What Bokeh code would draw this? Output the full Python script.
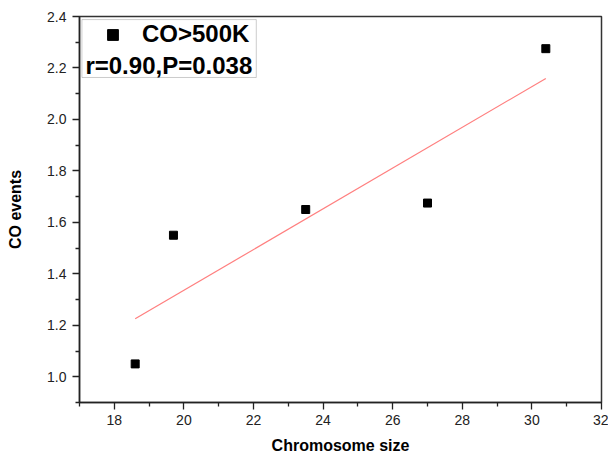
import numpy as np
from bokeh.plotting import figure
from bokeh.models import (Range1d, FixedTicker, NumeralTickFormatter, Legend,
                          LegendItem, Label, BoxAnnotation)
from bokeh.embed import file_html
from bokeh.resources import INLINE

# ---- data ----
chrom_size = [18.6, 19.7, 23.5, 27.0, 30.4]
co_events = [1.05, 1.55, 1.65, 1.675, 2.275]
series_label = "CO>500K"
stats_text = "r=0.90,P=0.038"
x_ticks = [18, 20, 22, 24, 26, 28, 30, 32]
x_minor = [17, 19, 21, 23, 25, 27, 29, 31]
y_ticks = [1.0, 1.2, 1.4, 1.6, 1.8, 2.0, 2.2, 2.4]
y_minor = [0.9, 1.1, 1.3, 1.5, 1.7, 1.9, 2.1, 2.3]

# linear fit drawn over the data span
slope, intercept = np.polyfit(chrom_size, co_events, 1)
fit_x = [min(chrom_size), max(chrom_size)]
fit_y = [slope * v + intercept for v in fit_x]

FONT = "Liberation Sans"

p = figure(width=608, height=461, output_backend="svg", toolbar_location=None,
           x_range=Range1d(17, 32), y_range=Range1d(0.9, 2.4),
           min_border_left=79, min_border_right=7, min_border_top=16,
           min_border_bottom=59)
p.background_fill_color = "white"
p.border_fill_color = "white"
p.outline_line_color = "#333333"
p.outline_line_width = 1.5
p.xgrid.visible = False
p.ygrid.visible = False

p.line(fit_x, fit_y, line_color="#ff7f7f", line_width=1.2)
pts = p.scatter(chrom_size, co_events, marker="square", size=8,
                fill_color="black", line_color="black", line_width=1)

for ax in (p.xaxis[0], p.yaxis[0]):
    ax.axis_line_color = "#222222"
    ax.axis_line_width = 1.5
    ax.major_tick_line_color = "#222222"
    ax.minor_tick_line_color = "#222222"
    ax.major_tick_line_width = 1.3
    ax.minor_tick_line_width = 1.3
    ax.major_tick_out = 7
    ax.major_tick_in = 0
    ax.minor_tick_out = 4
    ax.minor_tick_in = 0
    ax.major_label_text_font = FONT
    ax.major_label_text_font_size = "14px"
    ax.major_label_text_color = "#222222"
    ax.axis_label_text_font = FONT
    ax.axis_label_text_font_size = "16px"
    ax.axis_label_text_font_style = "bold"
    ax.axis_label_text_color = "black"

p.xaxis.ticker = FixedTicker(ticks=x_ticks, minor_ticks=x_minor)
p.yaxis.ticker = FixedTicker(ticks=y_ticks, minor_ticks=y_minor)
p.yaxis.formatter = NumeralTickFormatter(format="0.0")
p.xaxis.axis_label = "Chromosome size"
p.yaxis.axis_label = "CO events"
p.xaxis.major_label_standoff = 5
p.xaxis.axis_label_standoff = 9
p.yaxis.major_label_standoff = 6
p.yaxis.axis_label_standoff = 20

# legend frame
box = BoxAnnotation(left=17.07, right=22.08, top=2.388, bottom=2.163,
                    fill_alpha=0, line_color="#555555", line_width=1)
p.add_layout(box)

legend = Legend(items=[LegendItem(label=series_label, renderers=[pts])],
                location="top_left", margin=4, padding=0, spacing=0,
                glyph_width=59, glyph_height=27, label_standoff=0,
                border_line_alpha=0, background_fill_alpha=0,
                label_text_font=FONT, label_text_font_size="24px",
                label_text_font_style="bold", label_text_color="black")
p.add_layout(legend)

stats = Label(x=17.17, y=2.2096, text=stats_text, text_baseline="middle",
              text_font=FONT, text_font_size="24px", text_font_style="bold",
              text_color="black")
p.add_layout(stats)

open("out.html", "w").write(file_html(p, INLINE))
